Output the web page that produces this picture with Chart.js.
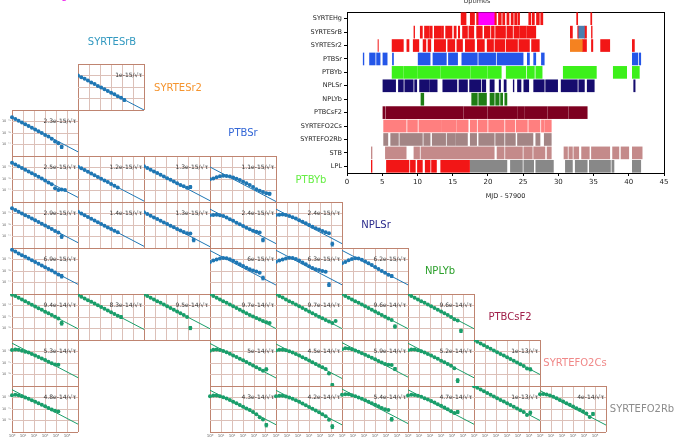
<!DOCTYPE html>
<html>
<head>
<meta charset="utf-8">
<script src="https://cdn.jsdelivr.net/npm/chart.js"></script>
<style>
  body { margin: 0; background: #fff; width: 674px; height: 442px; overflow: hidden; position: relative; font-family: 'DejaVu Sans', sans-serif; }
  canvas { position: absolute; }
  .coef { position: absolute; font-size: 6px; line-height: 6px; color: #333; white-space: nowrap; }
  .clock { position: absolute; font-size: 10px; line-height: 12px; white-space: nowrap; transform: translate(-50%, -50%); }
</style>
</head>
<body>
<script>
// ---- Allan deviation panels ----
const tau = [1, 2, 4, 8, 16, 32, 64, 128, 256, 512, 1024, 2048, 4096, 8192, 16384, 32768, 65536, 131072, 262144];
const xTicks = [1, 10, 100, 1e3, 1e4, 1e5, 1e6];
const xTickLabels = ['10⁰', '10¹', '10²', '10³', '10⁴', '10⁵', ''];
const yTicksBlue = [1e-18, 1e-17, 1e-16, 1e-15, 1e-14];
const yLabelsBlue = ['', '10⁻¹⁷', '10⁻¹⁶', '10⁻¹⁵', ''];
const yTicksGreen = [1e-17, 1e-16, 1e-15, 1e-14, 1e-13];
const yLabelsGreen = ['', '10⁻¹⁶', '10⁻¹⁵', '10⁻¹⁴', ''];

const clockNames = ['SYRTEHg', 'SYRTESrB', 'SYRTESr2', 'PTBSr', 'PTBYb', 'NPLSr', 'NPLYb', 'PTBCsF2', 'SYRTEFO2Cs', 'SYRTEFO2Rb'];
const clockColors = ['#ee22ee', '#3399c0', '#f5942e', '#3266d6', '#66ee44', '#2b2b8c', '#2ca02c', '#a0204a', '#f08888', '#8c8c8c'];

const panelRow = [0, 1, 2, 2, 2, 2, 3, 3, 3, 3, 3, 4, 4, 4, 4, 5, 5, 5, 5, 5, 5, 5, 6, 6, 6, 6, 6, 6, 7, 7, 7, 7, 7, 7, 7];
const panelCol = [1, 0, 0, 1, 2, 3, 0, 1, 2, 3, 4, 0, 3, 4, 5, 0, 1, 2, 3, 4, 5, 6, 0, 3, 4, 5, 6, 7, 0, 3, 4, 5, 6, 7, 8];
const panelLabel = ['1e-15', '2.3e-15', '2.5e-15', '1.2e-15', '1.3e-15', '1.1e-15', '2.9e-15', '1.4e-15', '1.3e-15', '2.4e-15', '2.4e-15',
  '6.9e-15', '6e-15', '6.3e-15', '6.2e-15', '9.4e-14', '8.3e-14', '9.5e-14', '9.7e-14', '9.7e-14', '9.6e-14', '9.6e-14',
  '5.3e-14', '5e-14', '4.5e-14', '5.9e-14', '5.2e-14', '1e-13', '4.8e-14', '4.3e-14', '4.2e-14', '5.4e-14', '4.7e-14', '1e-13', '4e-14'];
const panelCoef = [1, 2.3, 2.5, 1.2, 1.3, 1.1, 2.9, 1.4, 1.3, 2.4, 2.4, 6.9, 6, 6.3, 6.2,
  9.4, 8.3, 9.5, 9.7, 9.7, 9.6, 9.6, 5.3, 5, 4.5, 5.9, 5.2, 10, 4.8, 4.3, 4.2, 5.4, 4.7, 10, 4];
// rows 0-4 in 1e-15, rows 5-7 in 1e-14
const rowUnit = [1e-15, 1e-15, 1e-15, 1e-15, 1e-15, 1e-14, 1e-14, 1e-14];

const panelAdev = [
  [1.0, 0.70, 0.51, 0.36, 0.25, 0.18, 0.125, 0.089, 0.063, 0.045, 0.032, 0.023, 0.016, 0.0115, 0.0075],
  [2.3, 1.62, 1.15, 0.8, 0.57, 0.40, 0.28, 0.20, 0.14, 0.10, 0.068, 0.05, 0.032, 0.018, 0.013, 0.0065],
  [2.6, 1.8, 1.3, 0.9, 0.63, 0.44, 0.31, 0.22, 0.16, 0.11, 0.075, 0.05, 0.035, 0.016, 0.011, 0.012, 0.011],
  [1.18, 0.84, 0.6, 0.42, 0.3, 0.21, 0.15, 0.106, 0.075, 0.054, 0.037, 0.026, 0.018],
  [1.3, 0.92, 0.65, 0.46, 0.33, 0.23, 0.165, 0.118, 0.085, 0.06, 0.042, 0.03, 0.024, 0.017, 0.02],
  [0.093, 0.11, 0.14, 0.175, 0.19, 0.185, 0.165, 0.135, 0.105, 0.08, 0.058, 0.042, 0.03, 0.02, 0.013, 0.0095, 0.0075, 0.0058, 0.0052],
  [2.9, 2.05, 1.45, 1.02, 0.72, 0.51, 0.36, 0.26, 0.18, 0.13, 0.09, 0.064, 0.044, 0.03, 0.022, 0.01],
  [1.4, 1.0, 0.7, 0.5, 0.35, 0.25, 0.175, 0.124, 0.088, 0.062, 0.044, 0.031, 0.024],
  [1.3, 0.92, 0.65, 0.46, 0.33, 0.235, 0.168, 0.12, 0.087, 0.063, 0.046, 0.034, 0.025, 0.019, 0.018, 0.005],
  [0.7, 0.75, 0.78, 0.72, 0.6, 0.45, 0.32, 0.23, 0.16, 0.115, 0.08, 0.058, 0.042, 0.032, 0.026, 0.022, 0.005],
  [0.74, 0.78, 0.8, 0.75, 0.62, 0.48, 0.36, 0.26, 0.19, 0.14, 0.1, 0.072, 0.053, 0.04, 0.03, 0.024, 0.019, 0.0022],
  [6.9, 4.9, 3.4, 2.4, 1.7, 1.2, 0.86, 0.6, 0.43, 0.3, 0.21, 0.15, 0.11, 0.075, 0.05, 0.035],
  [0.6, 0.8, 1.0, 1.2, 1.35, 1.3, 1.05, 0.78, 0.55, 0.38, 0.27, 0.19, 0.14, 0.11, 0.09, 0.07, 0.025],
  [0.64, 0.8, 1.0, 1.25, 1.4, 1.35, 1.1, 0.82, 0.56, 0.38, 0.26, 0.18, 0.14, 0.12, 0.1, 0.085, 0.0065],
  [0.47, 0.62, 0.85, 1.1, 1.27, 1.2, 0.95, 0.68, 0.48, 0.33, 0.22, 0.15, 0.1, 0.07, 0.048, 0.036],
  [8.8, 6.6, 4.7, 3.3, 2.35, 1.66, 1.17, 0.83, 0.59, 0.42, 0.29, 0.21, 0.148, 0.105, 0.074, 0.028],
  [8.0, 5.8, 4.1, 2.9, 2.1, 1.47, 1.04, 0.73, 0.52, 0.37, 0.26, 0.18, 0.13, 0.1],
  [9.0, 6.7, 4.75, 3.4, 2.4, 1.7, 1.2, 0.84, 0.6, 0.42, 0.3, 0.21, 0.15, 0.1, 0.011],
  [9.3, 6.8, 4.8, 3.4, 2.4, 1.7, 1.2, 0.85, 0.6, 0.43, 0.3, 0.21, 0.15, 0.11, 0.08, 0.06, 0.045, 0.035, 0.03],
  [9.5, 6.8, 4.85, 3.4, 2.4, 1.7, 1.2, 0.86, 0.61, 0.43, 0.3, 0.21, 0.15, 0.107, 0.076, 0.054, 0.04, 0.03, 0.045],
  [9.4, 6.7, 4.8, 3.4, 2.4, 1.7, 1.2, 0.85, 0.6, 0.42, 0.3, 0.21, 0.15, 0.105, 0.075, 0.055, 0.015],
  [9.4, 6.7, 4.8, 3.4, 2.4, 1.7, 1.2, 0.85, 0.6, 0.42, 0.3, 0.21, 0.15, 0.1, 0.065, 0.05, 0.0063],
  [1.35, 1.5, 1.45, 1.15, 0.95, 0.8, 0.62, 0.46, 0.34, 0.25, 0.18, 0.13, 0.095, 0.075, 0.07],
  [1.17, 1.45, 1.5, 1.35, 1.1, 0.85, 0.63, 0.46, 0.33, 0.24, 0.17, 0.12, 0.085, 0.06, 0.042, 0.03, 0.021, 0.028],
  [1.2, 1.4, 1.45, 1.3, 1.05, 0.8, 0.6, 0.44, 0.32, 0.23, 0.165, 0.118, 0.083, 0.059, 0.042, 0.03, 0.0125, 0.0012],
  [1.6, 1.9, 1.85, 1.55, 1.25, 0.95, 0.72, 0.53, 0.39, 0.29, 0.21, 0.15, 0.11, 0.082, 0.07, 0.068, 0.03],
  [1.3, 1.5, 1.5, 1.3, 1.05, 0.8, 0.6, 0.44, 0.32, 0.23, 0.16, 0.115, 0.08, 0.058, 0.035, 0.003],
  [9.6, 6.9, 4.9, 3.5, 2.5, 1.76, 1.24, 0.88, 0.62, 0.44, 0.31, 0.22, 0.156, 0.11, 0.078, 0.055, 0.034, 0.028],
  [1.6, 1.75, 1.6, 1.3, 1.0, 0.78, 0.58, 0.43, 0.32, 0.23, 0.17, 0.125, 0.092, 0.07, 0.06],
  [1.3, 1.5, 1.5, 1.3, 1.05, 0.8, 0.6, 0.43, 0.31, 0.22, 0.16, 0.11, 0.08, 0.055, 0.035, 0.019, 0.012, 0.004],
  [1.3, 1.45, 1.45, 1.25, 1.0, 0.78, 0.58, 0.42, 0.3, 0.21, 0.15, 0.105, 0.075, 0.052, 0.035, 0.024, 0.0115, 0.003],
  [1.7, 1.95, 1.9, 1.6, 1.3, 1.0, 0.76, 0.57, 0.42, 0.31, 0.23, 0.17, 0.125, 0.095, 0.08, 0.013],
  [1.5, 1.7, 1.65, 1.4, 1.15, 0.88, 0.66, 0.49, 0.36, 0.26, 0.19, 0.135, 0.095, 0.065, 0.045, 0.055],
  [9.6, 6.9, 4.9, 3.5, 2.5, 1.76, 1.24, 0.88, 0.62, 0.44, 0.31, 0.22, 0.156, 0.11, 0.078, 0.055, 0.03, 0.048],
  [1.9, 2.0, 1.85, 1.5, 1.15, 0.85, 0.62, 0.45, 0.32, 0.23, 0.165, 0.118, 0.085, 0.06, 0.04, 0.02, 0.037]
];
// error bar on the last point [low, high], same units
const panelErr = [
  [0.0058, 0.0092], [0.0045, 0.0085], null, null, [0.015, 0.026], [0.004, 0.0068], [0.007, 0.014], null,
  [0.0035, 0.007], [0.0035, 0.007], [0.0015, 0.0032], [0.025, 0.05], [0.017, 0.035], [0.0045, 0.0095], [0.028, 0.046],
  [0.02, 0.04], [0.075, 0.13], [0.008, 0.015], null, null, [0.011, 0.02], [0.0045, 0.0085],
  null, [0.021, 0.036], [0.0009, 0.0016], [0.022, 0.04], [0.002, 0.0042], [0.021, 0.036],
  null, [0.0028, 0.0055], [0.002, 0.0042], [0.009, 0.018], [0.04, 0.075], [0.036, 0.064], [0.028, 0.05]
];

// ---- Uptimes (MJD - 57900) ----
const upRows = ['SYRTEHg', 'SYRTESrB', 'SYRTESr2', 'PTBSr', 'PTBYb', 'NPLSr', 'NPLYb', 'PTBCsF2', 'SYRTEFO2Cs', 'SYRTEFO2Rb', 'STB', 'LPL'];
const segHgMagenta = [[18.7, 20.9]];
const segHgRed = [[16.2, 16.9], [17.5, 18.1], [18.4, 18.7], [20.9, 21.2], [21.5, 21.9], [22.1, 22.4], [22.7, 23.0], [23.3, 23.6], [23.8, 24.1], [24.25, 24.5],
  [25.8, 26.1], [26.3, 26.6], [26.9, 27.3], [27.5, 27.8], [32.6, 32.75], [34.6, 34.75]];
const segSrBSteel = [[32.9, 33.7]];
const segSrBRed = [[9.5, 9.6], [10.4, 10.7], [11.0, 11.7], [11.8, 12.1], [12.4, 13.3], [13.4, 13.7], [14.0, 14.9], [15.2, 15.5], [15.8, 16.0], [16.4, 17.1],
  [17.3, 18.0], [18.4, 19.2], [19.5, 20.3], [20.5, 20.9], [21.1, 22.5], [22.7, 23.5], [23.7, 24.4], [24.5, 25.4], [25.5, 26.8],
  [31.7, 32.0], [32.75, 32.9], [33.7, 34.0], [34.7, 34.8]];
const segSr2Orange = [[31.7, 33.4]];
const segSr2Red = [[4.4, 4.45], [6.4, 8.0], [8.5, 8.8], [9.4, 10.2], [10.8, 11.2], [11.5, 11.9], [12.4, 14.0], [14.3, 15.3], [15.6, 16.4], [16.8, 18.1],
  [18.5, 19.5], [19.9, 20.8], [21.0, 22.4], [22.6, 24.2], [24.4, 25.9], [26.2, 27.3], [33.4, 34.0], [34.7, 34.9], [36.0, 37.3], [40.5, 40.8]];
const segPTBSr = [[2.3, 2.4], [3.2, 4.0], [4.2, 4.7], [5.1, 5.7], [6.45, 6.6], [10.1, 11.8], [12.2, 14.1], [14.4, 15.7], [16.3, 18.5], [18.7, 21.1],
  [21.3, 25.0], [25.6, 25.9], [26.5, 26.8], [27.6, 28.0], [40.5, 41.3], [41.5, 41.7]];
const segPTBYb = [[6.4, 8.0], [8.1, 10.0], [10.1, 13.2], [13.3, 17.5], [17.6, 19.9], [20.0, 21.9], [22.6, 25.4], [25.6, 26.6], [26.8, 27.7],
  [30.7, 35.4], [37.8, 39.7], [40.5, 41.5]];
const segNPLSr = [[5.1, 6.9], [7.3, 8.0], [8.2, 9.4], [9.6, 9.9], [10.3, 11.7], [11.8, 12.8], [13.6, 15.6], [15.9, 17.1], [17.4, 19.0], [19.2, 19.7],
  [20.3, 20.9], [21.6, 21.8], [22.3, 22.6], [23.6, 23.7], [24.2, 24.7], [25.1, 25.8], [26.5, 28.0], [28.2, 29.9], [30.4, 32.7], [32.9, 33.7],
  [34.1, 35.1], [40.7, 40.9]];
const segNPLYb = [[10.5, 10.9], [17.7, 18.5], [18.7, 19.8], [20.3, 20.9], [21.1, 21.6], [21.8, 22.1], [22.4, 22.7]];
const segCsF2 = [[5.1, 5.35], [5.5, 16.5], [16.6, 19.9], [20.0, 24.2], [24.3, 25.1], [25.2, 28.4], [28.5, 31.4], [31.5, 34.1]];
const segFO2Cs = [[5.2, 8.4], [8.6, 10.0], [10.2, 13.3], [13.4, 15.5], [15.6, 17.2], [17.5, 18.4], [18.6, 19.9], [20.1, 22.3], [22.5, 23.8],
  [24.0, 25.6], [25.8, 27.4], [27.6, 28.0], [28.1, 29.0]];
const segFO2Rb = [[5.2, 5.8], [6.2, 7.3], [7.5, 10.7], [10.9, 11.8], [12.1, 14.0], [14.2, 15.4], [15.5, 17.1], [17.5, 18.4], [18.7, 20.9],
  [21.1, 22.3], [22.5, 23.9], [24.2, 26.4], [26.8, 27.4], [28.0, 29.0]];
const segSTB = [[3.45, 3.55], [5.45, 8.4], [9.5, 10.3], [10.5, 20.9], [21.3, 22.3], [22.5, 24.9], [25.1, 26.3], [26.5, 28.1], [28.4, 29.0],
  [30.8, 31.3], [31.5, 32.0], [32.2, 32.9], [33.3, 34.4], [34.7, 37.3], [37.7, 38.6], [38.9, 40.0], [40.5, 41.9]];
const segLPLRed = [[3.45, 3.55], [5.6, 8.8], [9.0, 9.7], [10.0, 10.7], [11.1, 11.8], [12.0, 12.7], [13.3, 17.4]];
const segLPLGray = [[17.5, 22.7], [23.2, 24.9], [25.1, 26.5], [26.8, 29.3], [31.0, 32.0], [32.4, 34.1], [34.4, 37.4], [37.6, 37.9], [40.5, 41.7]];

const upSeries = [
  ['SYRTEHg', segHgMagenta, '#ff00ff'], ['SYRTEHg', segHgRed, '#f21616'],
  ['SYRTESrB', segSrBSteel, '#4a7fb0'], ['SYRTESrB', segSrBRed, '#f21616'],
  ['SYRTESr2', segSr2Orange, '#f58220'], ['SYRTESr2', segSr2Red, '#f21616'],
  ['PTBSr', segPTBSr, '#2456e8'], ['PTBYb', segPTBYb, '#3cf01a'], ['NPLSr', segNPLSr, '#160c6e'],
  ['NPLYb', segNPLYb, '#1e7d14'], ['PTBCsF2', segCsF2, '#7d0020'], ['SYRTEFO2Cs', segFO2Cs, '#ff7f7f'],
  ['SYRTEFO2Rb', segFO2Rb, '#a38585'], ['STB', segSTB, '#c48a8a'],
  ['LPL', segLPLRed, '#f21616'], ['LPL', segLPLGray, '#888888']
];

Chart.defaults.font.family = "'DejaVu Sans', sans-serif";
const BLUE = '#1f77b4', GREEN = '#1a9e6a', BORDER = '#bf8470', GRID = '#dcc0b8';

function drawPanel(i) {
  const r = panelRow[i], c = panelCol[i];
  const green = r >= 5;
  const unit = rowUnit[r];
  const col = green ? GREEN : BLUE;
  const yt = green ? yTicksGreen : yTicksBlue;
  const yl = green ? yLabelsGreen : yLabelsBlue;
  const first = c === 0, last = r === 7;
  const extraL = first ? 12 : (last ? 6 : 0);
  const px = 12 + 66 * c, py = 64 + 46 * r;

  const cv = document.createElement('canvas');
  cv.width = extraL + 67;
  cv.height = last ? 56 : 47;
  cv.style.left = (px - extraL) + 'px';
  cv.style.top = py + 'px';
  document.body.appendChild(cv);

  const vals = panelAdev[i];
  const A = panelCoef[i] * unit;
  const datasets = [
    { type: 'scatter', data: vals.map((v, k) => ({ x: tau[k], y: v * unit })), backgroundColor: col, borderColor: col,
      pointRadius: 2, borderWidth: 0, clip: 3 },
    { type: 'line', data: [{ x: 1, y: A }, { x: 1e6, y: A / 1000 }], borderColor: col, borderWidth: 1, pointRadius: 0 }
  ];
  if (panelErr[i]) {
    const k = vals.length - 1;
    datasets.push({ type: 'line', data: [{ x: tau[k], y: panelErr[i][0] * unit }, { x: tau[k], y: panelErr[i][1] * unit }],
      borderColor: col, borderWidth: 1, pointStyle: 'line', pointRadius: 1.5, pointBorderColor: col, pointBorderWidth: 1, clip: 3 });
  }

  new Chart(cv, {
    type: 'scatter',
    data: { datasets },
    options: {
      responsive: false, animation: false, events: [],
      layout: { autoPadding: false, padding: { left: first ? 0 : extraL, right: 1, top: 0, bottom: last ? 0 : 1 } },
      plugins: { legend: { display: false }, tooltip: { enabled: false } },
      scales: {
        x: {
          type: 'logarithmic', min: 1, max: 1e6,
          afterBuildTicks: s => { s.ticks = xTicks.map(v => ({ value: v })); },
          ticks: { display: last, autoSkip: false, maxRotation: 0, minRotation: 0, padding: 2,
            font: { size: 4 }, color: '#666', callback: (v, k) => xTickLabels[k] },
          grid: { drawTicks: false, color: ctx => (ctx.index === 0 || ctx.index === xTicks.length - 1) ? BORDER : GRID },
          border: { display: false },
          afterFit: s => { s.height = last ? 10 : 0; s.paddingLeft = 0; s.paddingRight = 0; }
        },
        y: {
          type: 'logarithmic', min: yt[0], max: yt[yt.length - 1],
          afterBuildTicks: s => { s.ticks = yt.map(v => ({ value: v })); },
          ticks: { display: first, autoSkip: false, padding: 1, font: { size: 3.5 }, color: '#666', callback: (v, k) => yl[k] },
          grid: { drawTicks: false, color: ctx => (ctx.index === 0 || ctx.index === yt.length - 1) ? BORDER : GRID },
          border: { display: false },
          afterFit: s => { s.width = first ? 12 : 0; s.paddingTop = 0; s.paddingBottom = 0; }
        }
      }
    }
  });

  const lab = document.createElement('div');
  lab.className = 'coef';
  lab.textContent = panelLabel[i] + '/√τ';
  lab.style.right = (674 - (px + 66) + 2) + 'px';
  lab.style.top = (py + 8) + 'px';
  document.body.appendChild(lab);
}

for (let i = 0; i < panelRow.length; i++) drawPanel(i);

// clock names along the diagonal
const clockPos = [[45, -4], [112, 42], [178, 88], [243, 133], [311, 180], [376, 225], [440, 271], [510, 317], [575, 363], [642, 409]];
clockNames.forEach((name, k) => {
  const d = document.createElement('div');
  d.className = 'clock';
  d.textContent = name;
  d.style.color = clockColors[k];
  d.style.left = clockPos[k][0] + 'px';
  d.style.top = clockPos[k][1] + 'px';
  document.body.appendChild(d);
});

// uptimes chart
const up = document.createElement('canvas');
up.width = 384; up.height = 203;
up.style.left = '290px'; up.style.top = '-3px';
document.body.appendChild(up);

new Chart(up, {
  type: 'bar',
  data: {
    labels: upRows,
    datasets: upSeries.map(([row, segs, color]) => ({
      data: segs.map(s => ({ x: s, y: row })),
      backgroundColor: color, borderWidth: 0, barThickness: 12, grouped: false
    }))
  },
  options: {
    indexAxis: 'y', responsive: false, animation: false, events: [],
    layout: { autoPadding: false, padding: { left: 0, right: 10, top: 0, bottom: 0 } },
    plugins: {
      legend: { display: false }, tooltip: { enabled: false },
      title: { display: true, text: 'Uptimes', font: { size: 6.5, weight: 'normal' }, color: '#333', padding: { top: 0, bottom: 7.2 } }
    },
    scales: {
      x: {
        type: 'linear', min: 0, max: 45,
        ticks: { stepSize: 5, font: { size: 7 }, color: '#222', padding: 2, maxRotation: 0 },
        grid: { drawOnChartArea: false, tickLength: 3, color: '#000' },
        border: { color: '#000', width: 1 },
        title: { display: true, text: 'MJD - 57900', font: { size: 6.5 }, color: '#222', padding: { top: 2, bottom: 0 } },
        afterFit: s => { s.height = 27; }
      },
      x2: {
        type: 'linear', position: 'top', min: 0, max: 45,
        ticks: { display: false }, grid: { display: false, drawTicks: false }, border: { color: '#000', width: 1 },
        afterFit: s => { s.height = 0; }
      },
      y: {
        type: 'category',
        ticks: { font: { size: 6.5 }, color: '#222', padding: 2 },
        grid: { drawOnChartArea: false, tickLength: 3, color: '#000', offset: false },
        border: { color: '#000', width: 1 },
        afterFit: s => { s.width = 57; }
      },
      y2: {
        type: 'category', position: 'right', labels: upRows,
        ticks: { display: false }, grid: { display: false, drawTicks: false }, border: { color: '#000', width: 1 },
        afterFit: s => { s.width = 0; }
      }
    }
  }
});
</script>
</body>
</html>
